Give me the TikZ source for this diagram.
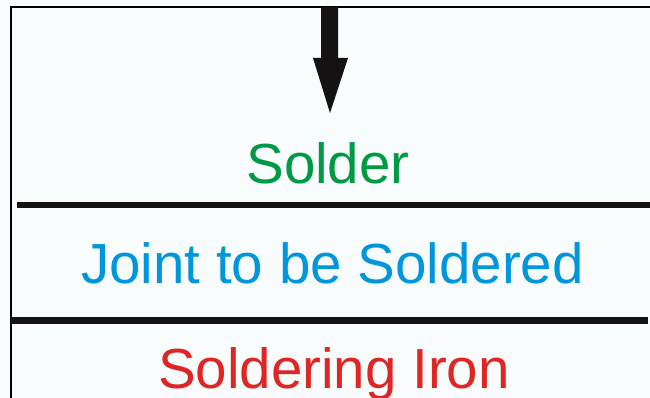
\documentclass[tikz,border=0pt]{standalone}
\usepackage{fontspec}
\setmainfont{Liberation Sans}
\definecolor{bgc}{RGB}{248,252,253}
\definecolor{solgreen}{RGB}{0,153,68}
\definecolor{jointblue}{RGB}{0,150,219}
\definecolor{ironred}{RGB}{222,38,36}
\definecolor{inkc}{RGB}{20,18,18}
\begin{document}
\begin{tikzpicture}[x=1pt,y=-1pt,
  label/.style={anchor=base,inner sep=0pt,font=\fontsize{56.5}{60}\selectfont},
  bar/.style={draw=inkc,line width=6.5pt},
  frame/.style={draw=black,line width=2.2pt}]
\fill[bgc] (0,0) rectangle (650,398);
\useasboundingbox (0,0) rectangle (650,398);
% frame (left and top)
\draw[frame] (11,398) -- (11,7) -- (650,7);
% arrow
\fill[inkc] (321,7) -- (338,7) -- (338,58) -- (348,58) -- (330,113) -- (313,58) -- (321,58) -- cycle;
% separator bars
\coordinate (b1l) at (17,205);
\coordinate (b1r) at (650,205);
\coordinate (b2l) at (11,320.5);
\coordinate (b2r) at (648,320.5);
\draw[bar] (b1l) -- (b1r);
\draw[bar] (b2l) -- (b2r);
% labels
\node[label,text=solgreen] (solder) at (328,183) {Solder};
\node[label,text=jointblue] (joint) at (332.5,283) {Joint to be Soldered};
\node[label,text=ironred] (iron) at (334,388) {Soldering Iron};
\end{tikzpicture}
\end{document}
